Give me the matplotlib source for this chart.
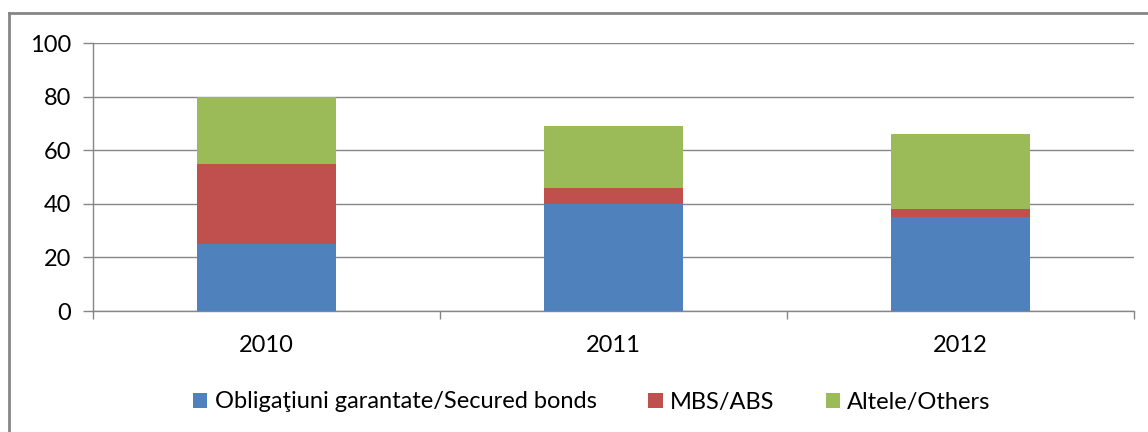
import matplotlib
matplotlib.use("Agg")
import matplotlib.pyplot as plt
from matplotlib.lines import Line2D
import numpy as np

years = ["2010", "2011", "2012"]
secured = [25, 40, 35]
mbs_abs = [30, 6, 3]
others = [25, 23, 28]
series_labels = ["Obligaţiuni garantate/Secured bonds", "MBS/ABS", "Altele/Others"]
colors = ["#4F81BD", "#C0504D", "#9BBB59"]
yticks = [0, 20, 40, 60, 80, 100]

plt.rcParams['font.family'] = ['Lato', 'DejaVu Sans']

fig = plt.figure(figsize=(11.48, 4.32), dpi=100)
ax = fig.add_axes([93/1148, 1-311/432, (1134-93)/1148, (311-43)/432])

x = np.arange(len(years))
width = 0.4
b1 = ax.bar(x, secured, width, color=colors[0], label=series_labels[0], zorder=3)
bottom2 = np.array(secured)
b2 = ax.bar(x, mbs_abs, width, bottom=bottom2, color=colors[1], label=series_labels[1], zorder=3)
bottom3 = bottom2 + np.array(mbs_abs)
b3 = ax.bar(x, others, width, bottom=bottom3, color=colors[2], label=series_labels[2], zorder=3)

ax.set_xlim(-0.5, len(years) - 0.5)
ax.set_ylim(0, 100)
ax.set_yticks(yticks)
ax.set_yticklabels([str(v) for v in yticks], fontsize=17)
ax.set_xticks(x)
ax.set_xticklabels(years, fontsize=17)
ax.set_xticks(np.arange(len(years) + 1) - 0.5, minor=True)
ax.tick_params(axis='x', which='major', length=0, pad=17)
ax.tick_params(axis='x', which='minor', length=6, color='#868686', width=1)
ax.tick_params(axis='y', length=7, color='#868686', width=1, pad=9)

ax.yaxis.grid(True, color='#868686', linewidth=1, zorder=0)
ax.set_axisbelow(True)
for s in ['top', 'right']:
    ax.spines[s].set_visible(False)
for s in ['left', 'bottom']:
    ax.spines[s].set_color('#868686')
    ax.spines[s].set_linewidth(1)

fig.legend(handles=[b1, b2, b3], labels=series_labels, loc='center',
           bbox_to_anchor=(592/1148, 1-402/432), ncol=3, frameon=False,
           fontsize=17, handlelength=0.6, handleheight=0.6, handletextpad=0.3,
           columnspacing=2.2)

# outer frame (top and left edges visible)
fig.add_artist(Line2D([9/1148, 9/1148], [0, 1-13/432], transform=fig.transFigure,
                      color='#868686', linewidth=2))
fig.add_artist(Line2D([9/1148, 1], [1-13/432, 1-13/432], transform=fig.transFigure,
                      color='#868686', linewidth=2))

fig.savefig("out.png", dpi=100)
